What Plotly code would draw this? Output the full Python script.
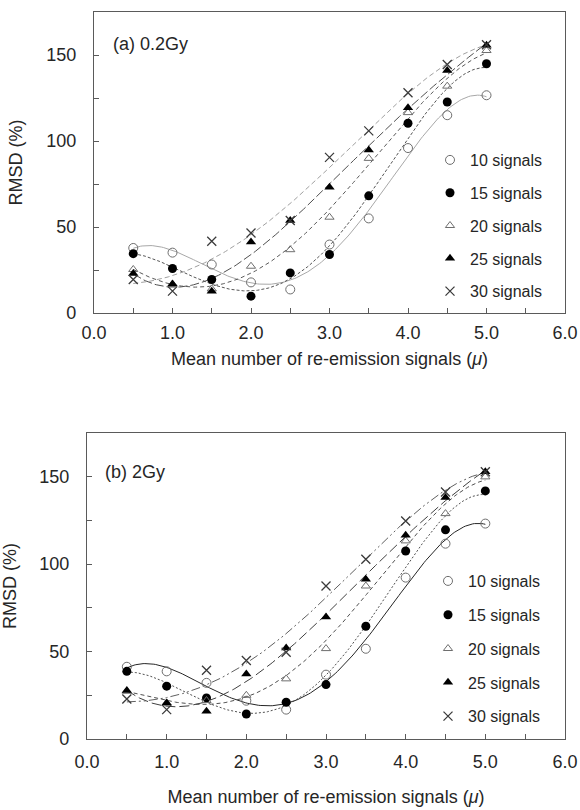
import numpy as np
import plotly.graph_objects as go

mu = [0.5, 1.0, 1.5, 2.0, 2.5, 3.0, 3.5, 4.0, 4.5, 5.0]
labels = ["10 signals", "15 signals", "20 signals", "25 signals", "30 signals"]

# (a) 0.2 Gy
a_10 = [37.8, 35.1, 28.2, 17.8, 13.7, 39.8, 55.0, 95.9, 115.0, 126.6]
a_15 = [34.5, 25.9, 19.5, 9.8, 23.3, 34.0, 68.1, 110.3, 122.7, 144.9]
a_20 = [25.3, 16.8, 14.0, 27.2, 36.8, 55.7, 89.9, 116.5, 131.9, 152.6]
a_25 = [23.0, 16.8, 12.7, 41.3, 53.8, 73.1, 94.7, 119.4, 141.0, 155.7]
a_30 = [19.5, 12.7, 41.7, 46.5, 53.8, 90.5, 105.9, 128.1, 144.5, 156.0]

# (b) 2 Gy
b_10 = [41.3, 38.7, 32.1, 21.9, 16.8, 36.8, 51.6, 92.3, 111.7, 123.2]
b_15 = [38.7, 30.2, 23.5, 14.3, 21.0, 31.1, 64.5, 107.5, 119.6, 141.9]
b_20 = [27.3, 20.6, 22.0, 25.0, 34.4, 51.7, 87.5, 113.3, 128.9, 149.9]
b_25 = [27.7, 20.6, 15.8, 37.2, 52.1, 69.7, 91.3, 116.5, 138.1, 152.8]
b_30 = [22.9, 16.8, 39.3, 44.9, 49.6, 87.5, 102.8, 124.7, 141.3, 152.8]

FONT = "Liberation Sans, Arial, sans-serif"
TXT = "#262626"

markers = [
    dict(symbol="circle-open", size=9, color="#6e6e6e", line=dict(width=1, color="#6e6e6e")),
    dict(symbol="circle", size=9, color="black"),
    dict(symbol="triangle-up-open", size=8, color="#6e6e6e", line=dict(width=1, color="#6e6e6e")),
    dict(symbol="triangle-up", size=9, color="black"),
    dict(symbol="x-thin-open", size=9, color="#3a3a3a", line=dict(width=1.3, color="#3a3a3a")),
]

lines_a = [
    dict(color="#a8a8a8", width=1, dash="solid"),
    dict(color="#555555", width=1, dash="3px,2px"),
    dict(color="#5a5a5a", width=1, dash="4px,3px"),
    dict(color="#505050", width=1, dash="9px,3px"),
    dict(color="#a0a0a0", width=1, dash="5px,3px"),
]
lines_b = [
    dict(color="#262626", width=1, dash="solid"),
    dict(color="#505050", width=1, dash="2px,2px"),
    dict(color="#505050", width=1, dash="4px,3px"),
    dict(color="#404040", width=1, dash="10px,4px"),
    dict(color="#606060", width=1, dash="9px,3px,2px,3px,2px,3px"),
]

fig = go.Figure()
xf = np.linspace(mu[0], mu[-1], 200)

def add_panel(series, line_styles, xa, ya, legend, grp):
    for i, (lab, ys) in enumerate(zip(labels, series)):
        coef = np.polyfit(mu, ys, 4)
        fig.add_trace(go.Scatter(x=xf, y=np.polyval(coef, xf), mode="lines",
                                 line=line_styles[i], xaxis=xa, yaxis=ya,
                                 showlegend=False, hoverinfo="skip"))
    for i, (lab, ys) in enumerate(zip(labels, series)):
        fig.add_trace(go.Scatter(x=mu, y=ys, mode="markers", name=lab,
                                 marker=markers[i], xaxis=xa, yaxis=ya,
                                 legend=legend, legendgroup=grp + str(i)))

add_panel([a_10, a_15, a_20, a_25, a_30], lines_a, "x", "y", "legend", "a")
add_panel([b_10, b_15, b_20, b_25, b_30], lines_b, "x2", "y2", "legend2", "b")

W, H = 580, 810

def fx(px):
    return px / W

def fy(py):
    return 1 - py / H

ax_common = dict(showline=True, linecolor="#5a5a5a", linewidth=1.2, mirror=True,
                 ticks="inside", ticklen=5, tickcolor="#5a5a5a", showgrid=False,
                 zeroline=False, automargin=False,
                 tickfont=dict(family=FONT, size=18, color=TXT))
minor_x = dict(dtick=0.5, ticks="inside", ticklen=5, tickcolor="#5a5a5a")
minor_y = dict(dtick=25, ticks="inside", ticklen=5, tickcolor="#5a5a5a")

def xt(st):
    return dict(text="Mean number of re-emission signals (<i>μ</i>)",
                font=dict(family=FONT, size=18, color=TXT), standoff=st)

def yt(st):
    return dict(text="RMSD (%)", font=dict(family=FONT, size=18, color=TXT), standoff=st)

fig.update_layout(
    width=W, height=H, margin=dict(l=0, r=0, t=0, b=0),
    paper_bgcolor="white", plot_bgcolor="white",
    xaxis=dict(ax_common, domain=[fx(94), fx(565)], range=[0, 6], dtick=1, tick0=0,
               tickformat=".1f", minor=minor_x, ticklabelstandoff=3,
               anchor="y", title=xt(10)),
    yaxis=dict(ax_common, domain=[fy(313), fy(12)], range=[0, 175], dtick=50, tick0=0,
               minor=minor_y, ticklabelstandoff=13, anchor="x", title=yt(18)),
    xaxis2=dict(ax_common, domain=[fx(87), fx(565)], range=[0, 6], dtick=1, tick0=0,
                tickformat=".1f", minor=minor_x, ticklabelstandoff=6,
                anchor="y2", title=xt(19)),
    yaxis2=dict(ax_common, domain=[fy(739), fy(433)], range=[0, 175], dtick=50, tick0=0,
                minor=minor_y, ticklabelstandoff=13, anchor="x2", title=yt(18)),
    legend=dict(x=fx(430), y=fy(143), xanchor="left", yanchor="top",
                font=dict(family=FONT, size=16, color=TXT), bgcolor="rgba(0,0,0,0)",
                traceorder="grouped", tracegroupgap=9),
    legend2=dict(x=fx(428), y=fy(564), xanchor="left", yanchor="top",
                 font=dict(family=FONT, size=16, color=TXT), bgcolor="rgba(0,0,0,0)",
                 traceorder="grouped", tracegroupgap=10),
    annotations=[
        dict(text="(a) 0.2Gy", x=fx(111), y=fy(44), xref="paper", yref="paper",
             xanchor="left", yanchor="middle", showarrow=False,
             font=dict(family=FONT, size=18, color=TXT)),
        dict(text="(b) 2Gy", x=fx(103), y=fy(472), xref="paper", yref="paper",
             xanchor="left", yanchor="middle", showarrow=False,
             font=dict(family=FONT, size=18, color=TXT)),
    ],
)

fig.write_html(
    "out.html",
    config={"displayModeBar": False},
    post_script="document.body.style.margin='0px';"
                "document.documentElement.style.overflow='hidden';"
                "document.body.style.overflow='hidden';",
)
